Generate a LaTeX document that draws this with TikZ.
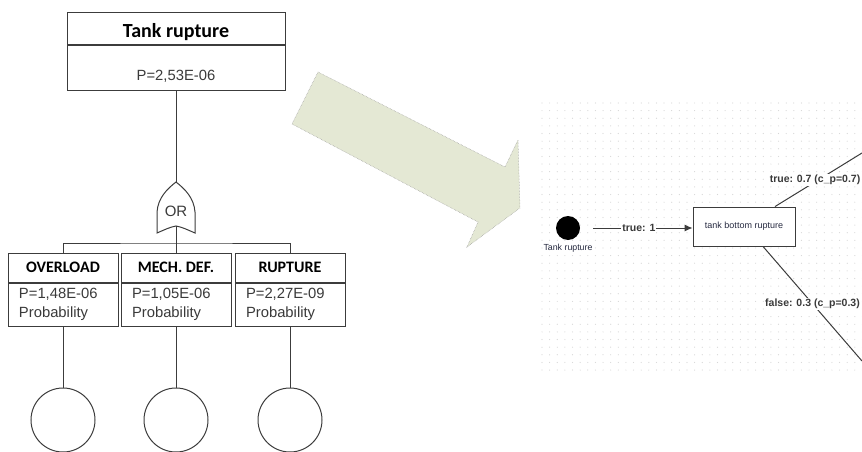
\documentclass[tikz,border=0pt]{standalone}
\usepackage{fontspec}
\setmainfont{Liberation Sans}
\newfontfamily\calib{Carlito}
\usetikzlibrary{arrows.meta,positioning}

\definecolor{linegray}{HTML}{3C3C3C}
\definecolor{txtgray}{HTML}{3A3A3A}
\definecolor{arrowfill}{RGB}{228,232,212}
\definecolor{dotgray}{HTML}{D6D6D6}
\definecolor{navytxt}{HTML}{262A40}

\tikzset{
  headbox/.style={draw=linegray, line width=1pt, fill=white, inner sep=0pt, font=\calib\bfseries\fontsize{16}{19}\selectfont},
  probbox/.style={draw=linegray, line width=1pt, fill=white, inner sep=0pt, text=txtgray, font=\fontsize{14.8}{19}\selectfont},
  basicev/.style={draw=linegray, line width=1pt, circle, minimum size=64pt, inner sep=0pt},
  treeline/.style={draw=linegray, line width=1pt},
  edgelbl/.style={fill=white, inner sep=1pt, text=txtgray, font=\bfseries\fontsize{10.5}{12}\selectfont},
}

\begin{document}
\begin{tikzpicture}[x=1pt, y=-1pt]
\useasboundingbox (0,0) rectangle (862,452);
% big arrow between the two views
\filldraw[fill=arrowfill, draw=gray!80, densely dotted, line width=0.5pt]
  (318,72) -- (505,167) -- (518,140) -- (520,208) -- (467,247) -- (478,222) -- (292,124) -- cycle;
% top event
\node[headbox, minimum width=218pt, minimum height=32pt, text height=17pt, text depth=0pt, font=\calib\bfseries\fontsize{20}{24}\selectfont] (top) at (176,29) {Tank rupture};
\node[probbox, minimum width=218pt, minimum height=44pt, text height=25pt, text depth=0pt, below=0pt of top] (topP) {P=2,53E-06};
% OR gate
\coordinate (gtop) at (176,182);
\coordinate (gbot) at (176,226);
\coordinate (bar) at (176,243);
\draw[treeline] (157,233) -- (157,212) .. controls (158,198) and (167,189) .. (gtop)
  .. controls (185,189) and (194,198) .. (195,212) -- (195,233)
  .. controls (188,230) and (182,227) .. (gbot) .. controls (170,227) and (164,230) .. (157,233) -- cycle;
\node[text=txtgray, font=\fontsize{15}{18}\selectfont, inner sep=0pt] (orlbl) at (176,211) {OR};
% intermediate events
\node[headbox, minimum width=110pt, minimum height=29pt] (overH) at (63,267.5) {OVERLOAD};
\node[headbox, minimum width=110pt, minimum height=29pt] (mechH) at (176,267.5) {MECH. DEF.};
\node[headbox, minimum width=110pt, minimum height=29pt] (rupH) at (290,267.5) {RUPTURE};
\node[probbox, minimum width=110pt, minimum height=43pt, text width=88pt, align=left, below=0pt of overH] (overP) {P=1,48E-06\\Probability};
\node[probbox, minimum width=110pt, minimum height=43pt, text width=88pt, align=left, below=0pt of mechH] (mechP) {P=1,05E-06\\Probability};
\node[probbox, minimum width=110pt, minimum height=43pt, text width=88pt, align=left, below=0pt of rupH] (rupP) {P=2,27E-09\\Probability};
% basic events
\node[basicev] (ev1) at (63,420) {};
\node[basicev] (ev2) at (176,420) {};
\node[basicev] (ev3) at (290,420) {};
% tree connectors
\draw[treeline] (topP.south) -- (gtop);
\draw[treeline] (gbot) -- (mechH.north);
\draw[treeline] (overH.north) |- (bar) -| (rupH.north);
\draw[treeline] (overP.south) -- (ev1.north);
\draw[treeline] (mechP.south) -- (ev2.north);
\draw[treeline] (rupP.south) -- (ev3.north);
% dotted canvas of the event tree
\foreach \i in {0,...,42}
  \foreach \j in {0,...,35}
    \fill[dotgray] ({542+\i*7.63},{103+\j*7.63}) circle (0.6pt);
% event tree
\node[circle, fill=black, minimum size=24pt, inner sep=0pt] (start) at (568,228) {};
\node[below=4pt of start, inner sep=0pt, text=navytxt, font=\fontsize{8.8}{10}\selectfont] (startlbl) {Tank rupture};
\node[draw=linegray, line width=0.9pt, fill=white, minimum width=102pt, minimum height=39pt, inner sep=0pt, text=navytxt, font=\fontsize{9}{11}\selectfont] (tbr) at (744,226.5) {tank bottom rupture};
\coordinate (upend) at (862,153);
\coordinate (lowend) at (862,361);
\draw[treeline, -{Latex[length=8pt,width=7pt]}] ([xshift=13pt]start.east) -- node[edgelbl, pos=0.46] {true: 1} (tbr.west |- start);
\draw[treeline] ([xshift=31pt]tbr.north) -- node[edgelbl, pos=0.46, yshift=2pt] {true: 0.7 (c\_p=0.7)} (upend);
\draw[treeline] ([xshift=19pt]tbr.south) -- node[edgelbl, pos=0.5] {false: 0.3 (c\_p=0.3)} (lowend);
\end{tikzpicture}
\end{document}
